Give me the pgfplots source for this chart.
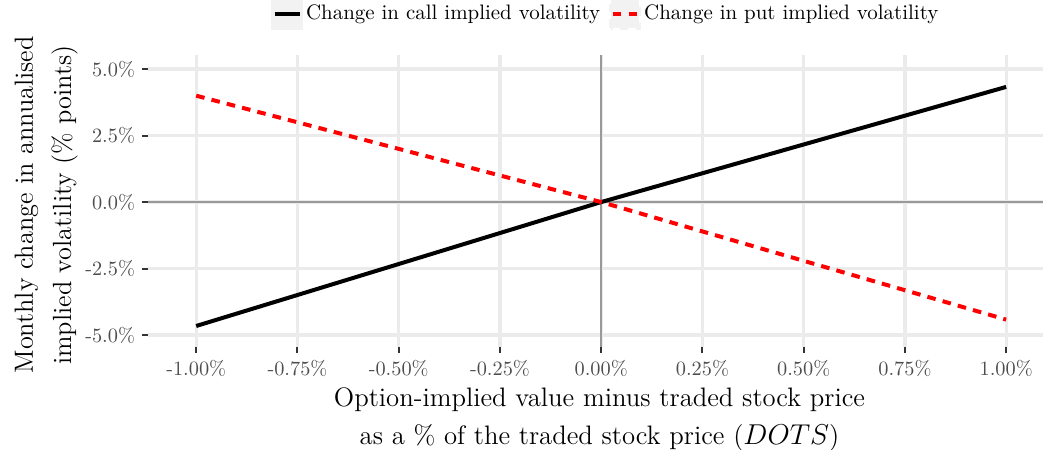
\documentclass[border=0pt]{standalone}
\usepackage{pgfplots}
\pgfplotsset{compat=1.18}
\definecolor{gridc}{HTML}{EBEBEB}
\definecolor{zeroc}{HTML}{999999}
\definecolor{tickc}{HTML}{333333}
\definecolor{labc}{HTML}{4D4D4D}
\definecolor{keybg}{HTML}{F2F2F2}
\begin{document}
\begin{tikzpicture}
\useasboundingbox (-74bp,-51.5bp) rectangle (448.5bp,173.5bp);
\begin{axis}[
  name=ax, at={(0,0)}, anchor=south west,
  scale only axis, width=447.5bp, height=146bp,
  xmin=-1.119, xmax=1.091, ymin=-5.45, ymax=5.53,
  xtick={-1,-0.75,-0.5,-0.25,0,0.25,0.5,0.75,1},
  xticklabels={-1.00\%,-0.75\%,-0.50\%,-0.25\%,0.00\%,0.25\%,0.50\%,0.75\%,1.00\%},
  ytick={-5,-2.5,0,2.5,5},
  yticklabels={-5.0\%,-2.5\%,0.0\%,2.5\%,5.0\%},
  axis line style={draw=none},
  xtick pos=bottom, ytick pos=left,
  tick align=outside, major tick length=3bp,
  tick style={color=tickc, line width=1bp},
  grid=major, major grid style={color=gridc, line width=1.6bp},
  ticklabel style={font=\fontsize{10.2}{12}\selectfont, text=labc},
  legend style={at={(rel axis cs:0.512,1)}, anchor=center, yshift=20.5bp,
    draw=none, fill=none, font=\fontsize{10.5}{12}\selectfont,
    /tikz/every even column/.append style={column sep=3bp},
    inner sep=0pt, nodes={inner sep=1.5bp}},
  legend columns=2,
  legend cell align=left,
  legend image code/.code={\fill[keybg] (0bp,-7bp) rectangle (14bp,7bp);
     \draw[#1] (0.8bp,0bp) -- (13.2bp,0bp);},
]
\draw[zeroc, line width=1.3bp] (axis cs:0,-5.45) -- (axis cs:0,5.53);
\draw[zeroc, line width=1.3bp] (axis cs:-1.119,0) -- (axis cs:1.091,0);
\addplot[black, line width=2bp] coordinates {(-1,-4.66) (0,0) (1,4.33)};
\addlegendentry{Change in call implied volatility}
\addplot[red, line width=2bp, dash pattern=on 4.3bp off 3.6bp] coordinates {(-1,4.0) (0,0) (1,-4.42)};
\addlegendentry{Change in put implied volatility}
\end{axis}
\node[font=\fontsize{13.4}{15}\selectfont, anchor=base] at ([xshift=2bp, yshift=-29.5bp]ax.south) {Option-implied value minus traded stock price};
\node[font=\fontsize{13.4}{15}\selectfont, anchor=base] at ([xshift=2bp, yshift=-48.8bp]ax.south) {as a \% of the traded stock price ($DOTS$)};
\node[font=\fontsize{13.2}{15}\selectfont, rotate=90, anchor=base] at ([xshift=-57.5bp, yshift=-2bp]ax.west) {Monthly change in annualised};
\node[font=\fontsize{13.2}{15}\selectfont, rotate=90, anchor=base] at ([xshift=-38.5bp, yshift=-2bp]ax.west) {implied volatility (\% points)};
\end{tikzpicture}
\end{document}
